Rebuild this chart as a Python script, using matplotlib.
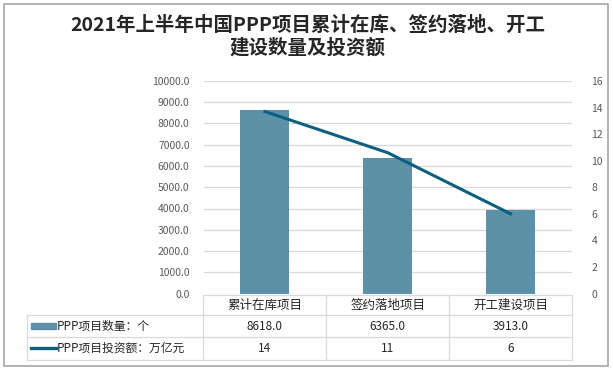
import matplotlib.pyplot as plt
from matplotlib.patches import Rectangle
from matplotlib.lines import Line2D

plt.rcParams['font.family'] = ['Noto Sans CJK SC', 'DejaVu Sans']

# data
categories = ["累计在库项目", "签约落地项目", "开工建设项目"]
counts = [8618.0, 6365.0, 3913.0]          # PPP项目数量：个
invest = [13.7, 10.6, 6.0]                 # PPP项目投资额：万亿元
series_names = ["PPP项目数量：个", "PPP项目投资额：万亿元"]
title = "2021年上半年中国PPP项目累计在库、签约落地、开工\n建设数量及投资额"

BAR_C = "#5d91a8"
LINE_C = "#0d5f80"
GRID_C = "#d9d9d9"
TICK_C = "#595959"

W, H = 613, 371
fig = plt.figure(figsize=(W / 100, H / 100), dpi=100)

def px(x0, y0, x1, y1):
    # pixel box -> figure fraction [left, bottom, width, height]
    return [x0 / W, 1 - y1 / H, (x1 - x0) / W, (y1 - y0) / H]

# outer border
fig.patches.append(Rectangle((4 / W, 1 - 366 / H), 604 / W, 362.5 / H,
                             transform=fig.transFigure, fill=False,
                             edgecolor="#a6a6a6", linewidth=1.2))

fig.text(308 / W, 1 - 37 / H, title, ha="center", va="center",
         fontsize=14, fontweight="bold", color="#262626", linespacing=1.2)

# main chart
ax = fig.add_axes(px(203.5, 81, 572, 293.5))
x = list(range(len(categories)))
ax.bar(x, counts, width=0.4, color=BAR_C, zorder=2)
ax.set_xlim(-0.5, 2.5)
ax.set_ylim(0, 10000)
ax.set_yticks(range(0, 10001, 1000))
ax.set_yticklabels([f"{v:.1f}" for v in range(0, 10001, 1000)])
ax.yaxis.grid(True, color=GRID_C, linewidth=0.9, zorder=0)
ax.set_xticks([])
for s in ax.spines.values():
    s.set_visible(False)
ax.tick_params(axis="y", length=0, labelsize=7.5, labelcolor=TICK_C, pad=10)

ax2 = ax.twinx()
ax2.plot(x, invest, color=LINE_C, linewidth=2.2, zorder=3)
ax2.set_ylim(0, 16)
ax2.set_yticks(range(0, 17, 2))
for s in ax2.spines.values():
    s.set_visible(False)
ax2.tick_params(axis="y", length=0, labelsize=7.5, labelcolor=TICK_C, pad=14)

# data table below
label_w = (203.5 - 27.5) / ((572 - 203.5) / 3)
tx = fig.add_axes(px(27.5, 295, 572, 359.5))
tx.set_xlim(-0.5 - label_w, 2.5)
tx.set_ylim(0, 64.5)
tx.axis("off")
row_lines = [64.5, 44.5, 22.2, 0]
kw = dict(color=GRID_C, linewidth=0.9, clip_on=False)
tx.add_line(Line2D([-0.5, 2.5], [row_lines[0]] * 2, **kw))
for yl in row_lines[1:]:
    tx.add_line(Line2D([-0.5 - label_w, 2.5], [yl] * 2, **kw))
for xv in [-0.5, 0.5, 1.5, 2.5]:
    tx.add_line(Line2D([xv, xv], [0, row_lines[0]], **kw))
tx.add_line(Line2D([-0.5 - label_w] * 2, [0, row_lines[1]], **kw))

for i, c in enumerate(categories):
    tx.text(i, (row_lines[0] + row_lines[1]) / 2, c, ha="center", va="center",
            fontsize=9, color="#262626")
    tx.text(i, (row_lines[1] + row_lines[2]) / 2, f"{counts[i]:.1f}",
            ha="center", va="center", fontsize=8.5, color="#262626")
    tx.text(i, (row_lines[2] + row_lines[3]) / 2, f"{invest[i]:.0f}",
            ha="center", va="center", fontsize=8.5, color="#262626")

# legend keys in the table
k0 = -0.5 - label_w + 3.5 / 123
k1 = -0.5 - label_w + 28.5 / 123
ym1 = (row_lines[1] + row_lines[2]) / 2
ym2 = (row_lines[2] + row_lines[3]) / 2
tx.add_patch(Rectangle((k0, ym1 - 2.8), k1 - k0, 5.6, color=BAR_C))
tx.add_line(Line2D([k0, k1], [ym2, ym2], color=LINE_C, linewidth=2.4))
tx.text(k1 + 0.01, ym1, series_names[0], ha="left", va="center",
        fontsize=8.5, color="#262626")
tx.text(k1 + 0.01, ym2, series_names[1], ha="left", va="center",
        fontsize=8.5, color="#262626")

fig.savefig("out.png", dpi=100)
